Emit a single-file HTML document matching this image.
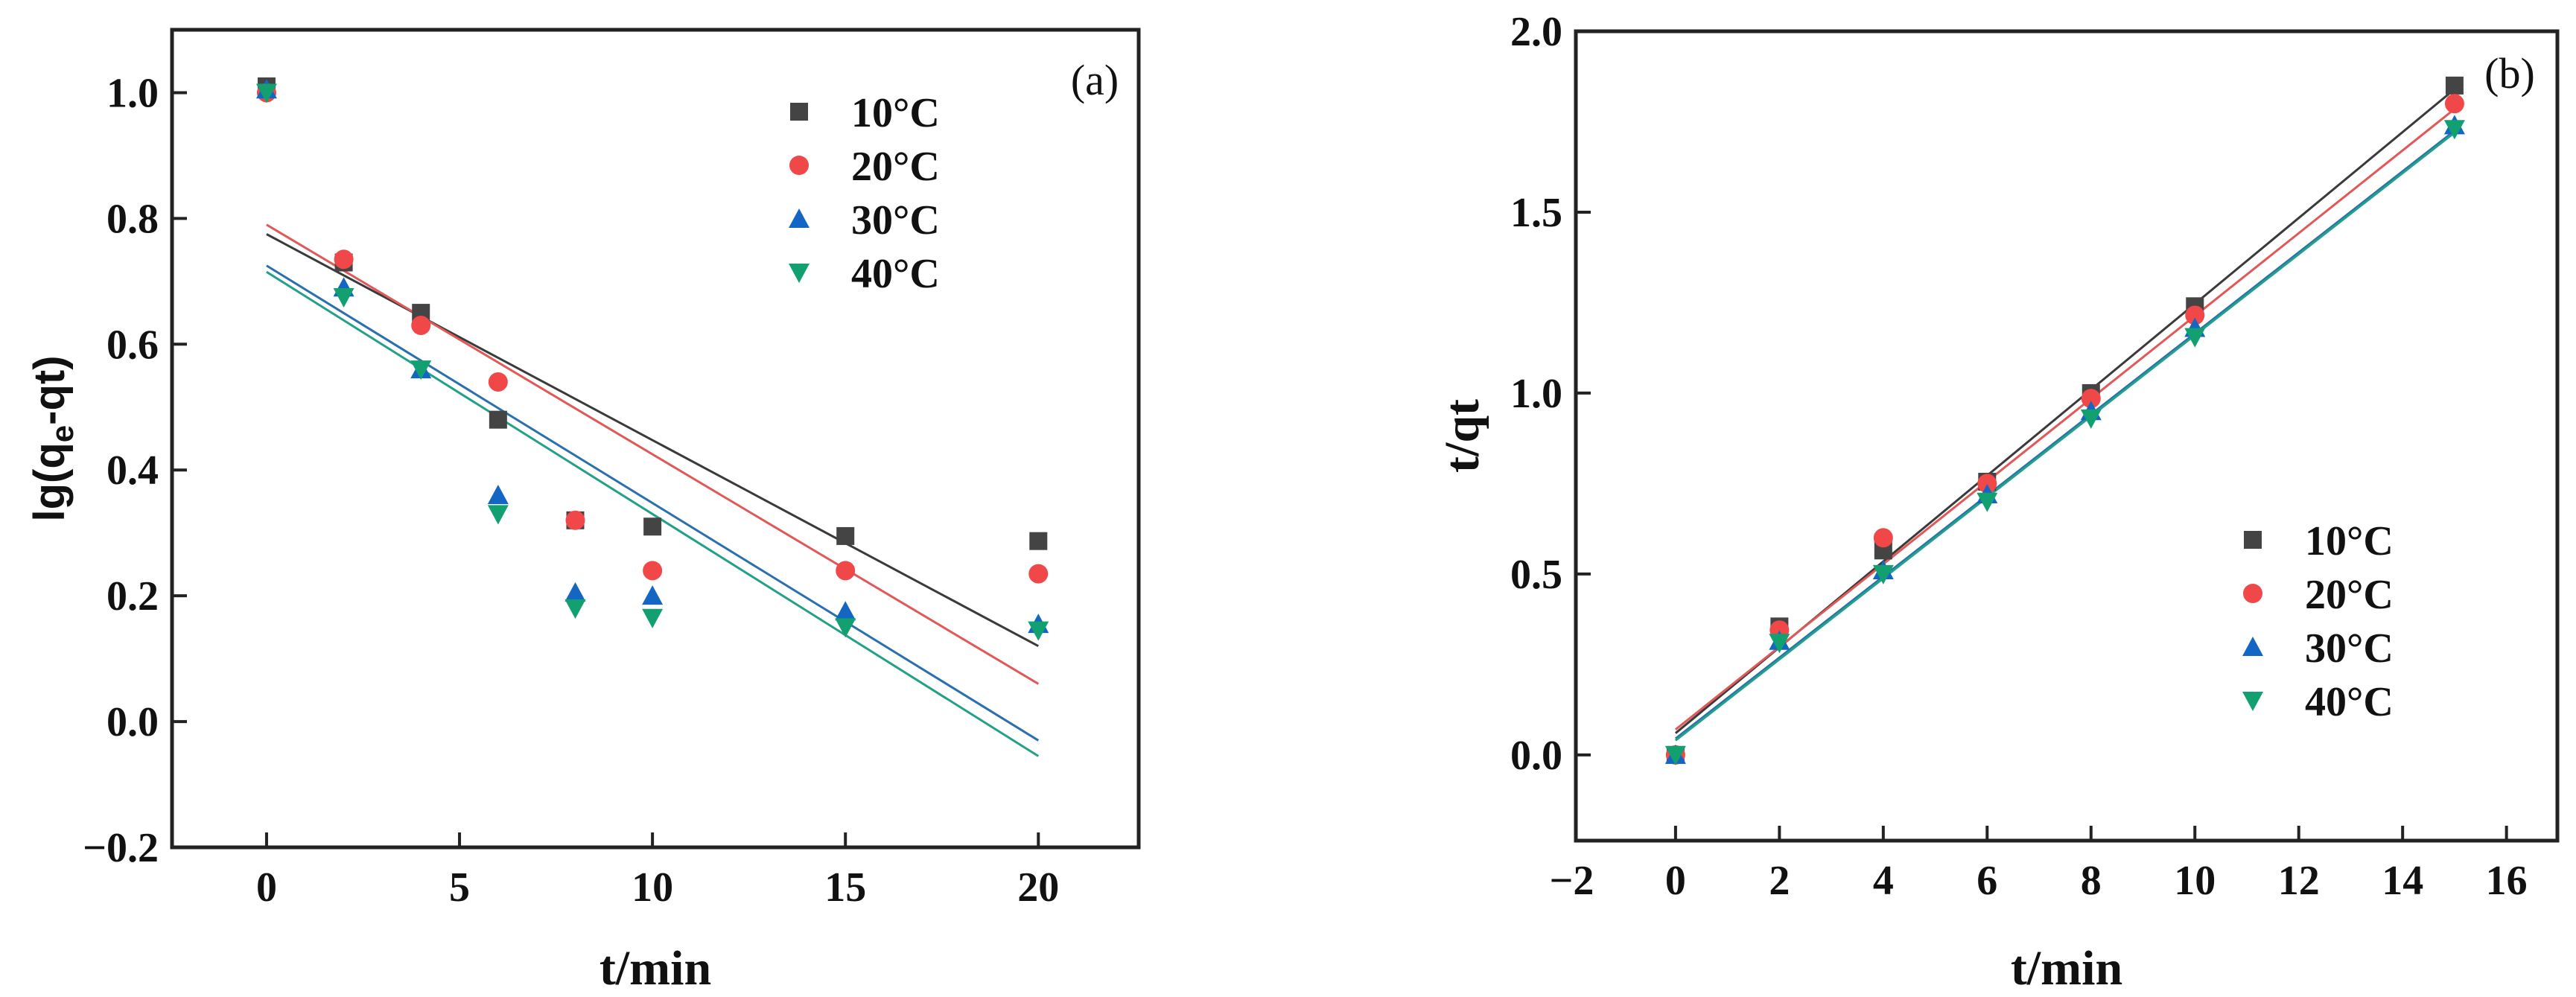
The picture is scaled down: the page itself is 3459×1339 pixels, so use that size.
<!DOCTYPE html>
<html><head><meta charset="utf-8">
<style>
html,body{margin:0;padding:0;background:#fff;}
svg{display:block;}
.tk{font-family:"Liberation Serif",serif;font-weight:bold;font-size:56px;fill:#111;}
.lg{font-family:"Liberation Serif",serif;font-weight:bold;font-size:56px;fill:#111;}
.pl{font-family:"Liberation Serif",serif;font-weight:normal;font-size:58px;fill:#111;}
.ttl{font-family:"Liberation Serif",serif;font-weight:bold;font-size:66px;fill:#111;}
.ytl{font-family:"Liberation Sans",sans-serif;font-weight:bold;font-size:58px;fill:#111;}
</style></head>
<body>
<svg id="chart" width="3459" height="1339" viewBox="0 0 3459 1339" xmlns="http://www.w3.org/2000/svg"></svg>
<script>
// ---- data panel (a) ----
const aTimes = [0,2,4,6,8,10,15,20];
const a10 = [1.01,0.73,0.65,0.48,0.32,0.31,0.295,0.287];
const a20 = [1.0,0.735,0.63,0.54,0.32,0.24,0.24,0.235];
const a30 = [1.005,0.69,0.56,0.36,0.205,0.2,0.175,0.155];
const a40 = [1.0,0.675,0.56,0.33,0.18,0.165,0.15,0.145];
const aFitStart = [0.775,0.79,0.725,0.715];
const aFitEnd = [0.12,0.06,-0.03,-0.055];
const aXTicks = [0,5,10,15,20];
const aYTicks = [-0.2,0.0,0.2,0.4,0.6,0.8,1.0];
// ---- data panel (b) ----
const bTimes = [0,2,4,6,8,10,15];
const b10 = [0,0.355,0.565,0.755,1.0,1.24,1.85];
const b20 = [0,0.345,0.6,0.75,0.985,1.215,1.8];
const b30 = [0,0.315,0.51,0.72,0.95,1.18,1.74];
const b40 = [0,0.31,0.5,0.7,0.93,1.155,1.73];
const bFitStart = [0.06,0.07,0.045,0.04];
const bFitEnd = [1.84,1.785,1.725,1.72];
const bXTicks = [-2,0,2,4,6,8,10,12,14,16];
const bYTicks = [0.0,0.5,1.0,1.5,2.0];
const seriesLabels = ["10\u00b0C","20\u00b0C","30\u00b0C","40\u00b0C"];

const NS="http://www.w3.org/2000/svg";
const svg=document.getElementById('chart');
const markColors=["#444","#f04848","#1466c4","#12a070"];
const lineColors=["#3a3a3a","#e05858","#2a70b0","#22a088"];
const shapes=["square","circle","up","down"];
function mk(tag,attrs,parent){const e=document.createElementNS(NS,tag);for(const k in attrs)e.setAttribute(k,attrs[k]);(parent||svg).appendChild(e);return e;}
function marker(shape,cx,cy,color,parent){
  const s=12;let e;
  if(shape==="square")e=mk('rect',{x:cx-s,y:cy-s,width:2*s,height:2*s,fill:color},parent);
  else if(shape==="circle")e=mk('circle',{cx:cx,cy:cy,r:s+1,fill:color},parent);
  else if(shape==="up")e=mk('polygon',{points:`${cx},${cy-s-2} ${cx-s-2},${cy+s} ${cx+s+2},${cy+s}`,fill:color},parent);
  else e=mk('polygon',{points:`${cx},${cy+s+2} ${cx-s-2},${cy-s} ${cx+s+2},${cy-s}`,fill:color},parent);
  return e;
}
function panel(cfg){
  const g=mk('g',{});
  
  
  const X=v=>cfg.x0+(v-cfg.xmin)/(cfg.xmax-cfg.xmin)*(cfg.x1-cfg.x0);
  const Y=v=>cfg.y1-(v-cfg.ymin)/(cfg.ymax-cfg.ymin)*(cfg.y1-cfg.y0);
  cfg.fs.forEach((s,i)=>{
    const l=mk('line',{x1:X(cfg.times[0]),y1:Y(s),x2:X(cfg.times[cfg.times.length-1]),y2:Y(cfg.fe[i]),stroke:lineColors[i],'stroke-width':3},g);
    
    
  });
  cfg.series.forEach((arr,i)=>{
    arr.forEach((v,j)=>{
      const m=marker(shapes[i],X(cfg.times[j]),Y(v),markColors[i],g);
      
      
    });
  });
  const fr=mk('rect',{x:cfg.x0,y:cfg.y0,width:cfg.x1-cfg.x0,height:cfg.y1-cfg.y0,fill:'none',stroke:'#222','stroke-width':5},g);
  
  
  cfg.xt.forEach(v=>{
    const x=X(v);
    if(x>cfg.x0+3) mk('line',{x1:x,y1:cfg.y1,x2:x,y2:cfg.y1-20,stroke:'#222','stroke-width':4},g);
    const t=mk('text',{x:x,y:cfg.y1+72,'text-anchor':'middle','class':'tk'},g);
    t.textContent=(v<0?'\u2212'+Math.abs(v):String(v));
    
    
  });
  cfg.yt.forEach(v=>{
    const y=Y(v);
    if(y<cfg.y1-3&&y>cfg.y0+3) mk('line',{x1:cfg.x0,y1:y,x2:cfg.x0+20,y2:y,stroke:'#222','stroke-width':4},g);
    const t=mk('text',{x:cfg.x0-18,y:y+19,'text-anchor':'end','class':'tk'},g);
    t.textContent=(v<0?'\u2212'+Math.abs(v).toFixed(1):v.toFixed(1));
    
    
  });
  seriesLabels.forEach((lab,i)=>{
    const ly=cfg.legY+i*cfg.legDy;
    const m=marker(shapes[i],cfg.legX,ly,markColors[i],g);
    
    
    const t=mk('text',{x:cfg.legX+70,y:ly+20,'class':'lg'},g);
    t.textContent=lab;
    
    
  });
  const pl=mk('text',{x:cfg.plX,y:cfg.plY,'class':'pl','text-anchor':'middle'},g);
  pl.textContent=cfg.plabel;
  
  
  const xt=mk('text',{x:(cfg.x0+cfg.x1)/2,y:1322,'text-anchor':'middle','class':'ttl'},g);
  xt.textContent='t/min';
  
  
  const yt=mk('text',{x:0,y:0,'text-anchor':'middle','class':cfg.ytClass,transform:`translate(${cfg.ytX},${(cfg.y0+cfg.y1)/2}) rotate(-90)`},g);
  yt.innerHTML=cfg.ytitle;
  
  
}
panel({name:'panel-a',x0:231,x1:1529,y0:40,y1:1138,xmin:-2.45,xmax:22.6,ymin:-0.2,ymax:1.1,
  times:aTimes,series:[a10,a20,a30,a40],fs:aFitStart,fe:aFitEnd,xt:aXTicks,yt:aYTicks,
  legX:1073,legY:150,legDy:72,plX:1470,plY:127,plabel:'(a)',ytX:86,ytClass:'ytl',
  ytitle:'lg(q<tspan baseline-shift="-12" font-size="42">e</tspan>-qt)'});
panel({name:'panel-b',x0:2116,x1:3434,y0:42,y1:1129,xmin:-1.92,xmax:16.98,ymin:-0.237,ymax:2.0,
  times:bTimes,series:[b10,b20,b30,b40],fs:bFitStart,fe:bFitEnd,xt:bXTicks,yt:bYTicks,
  legX:3025,legY:725,legDy:72,plX:3370,plY:118,plabel:'(b)',ytX:1985,ytClass:'ttl',
  ytitle:'t/qt'});
</script>
</body></html>
